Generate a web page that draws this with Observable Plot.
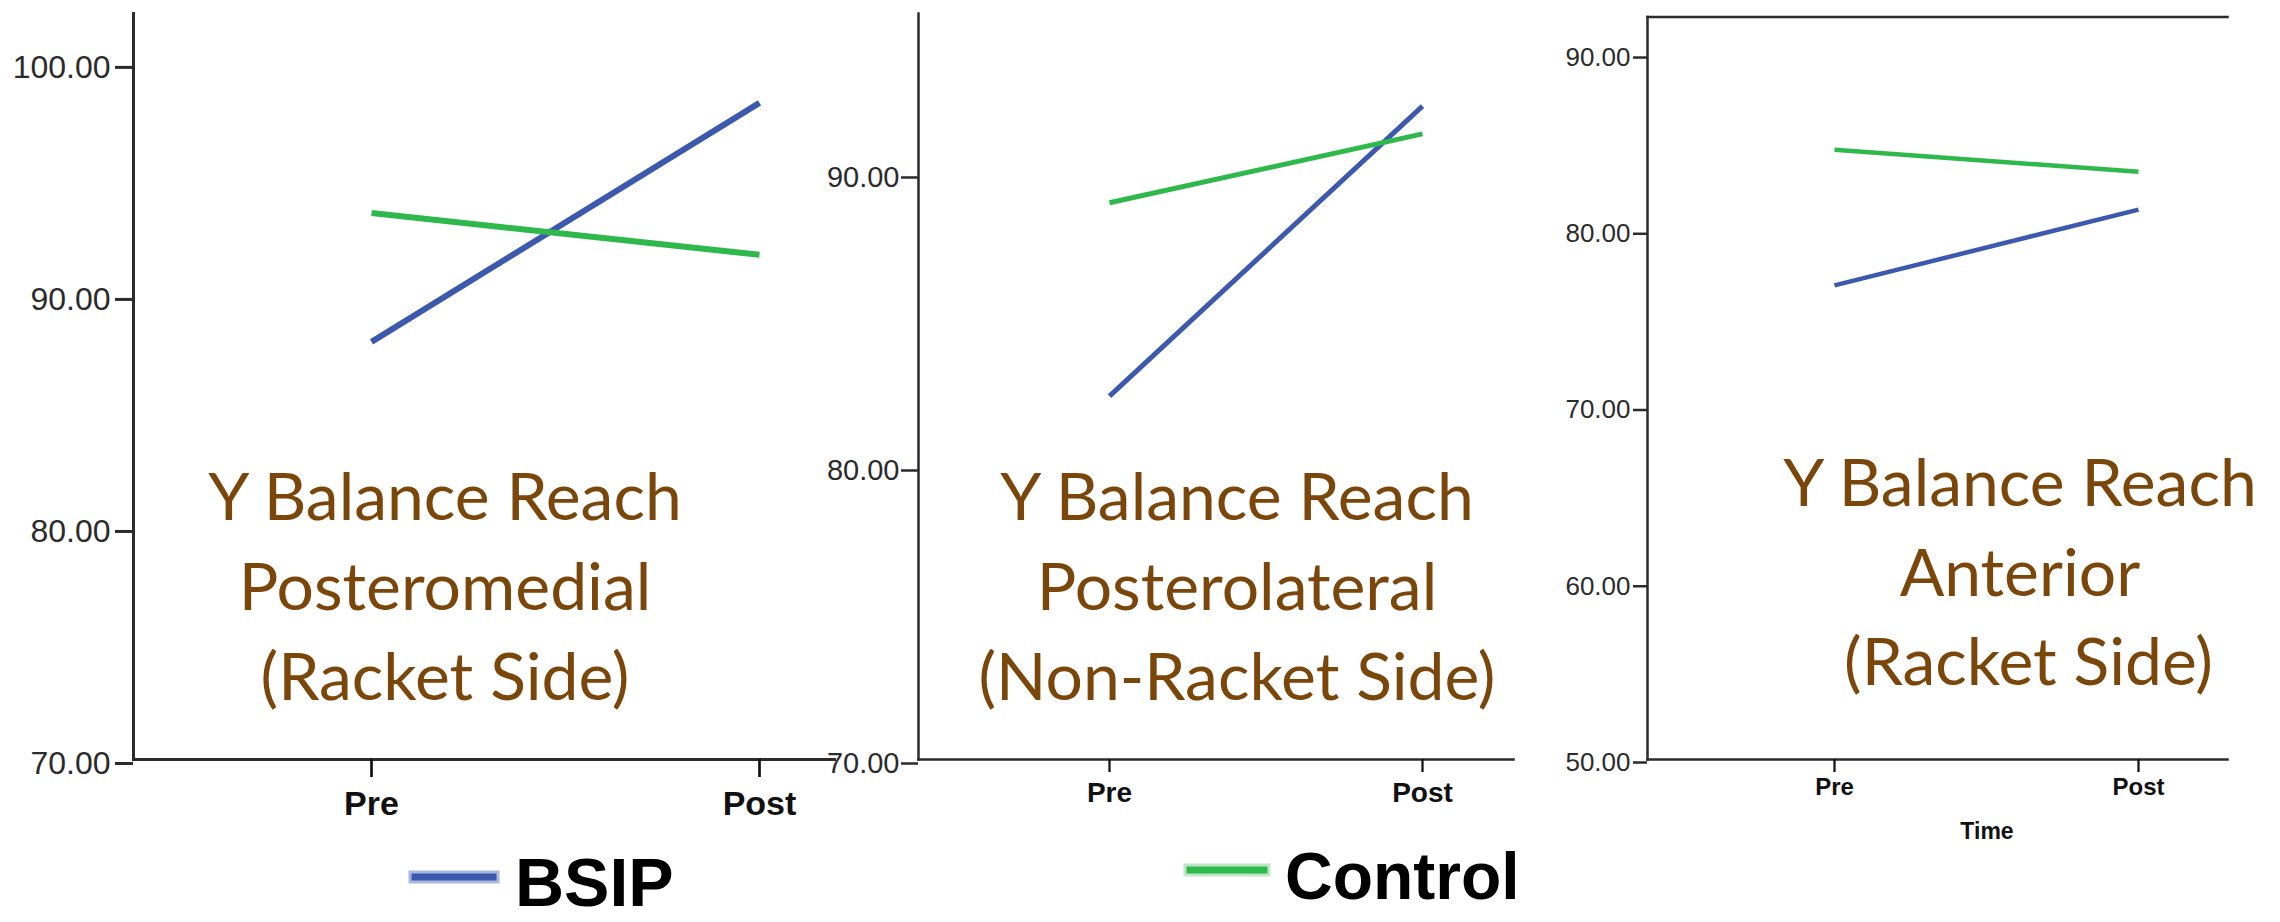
<!DOCTYPE html>
<html>
<head>
<meta charset="utf-8">
<script src="https://cdn.jsdelivr.net/npm/d3@7"></script>
<script src="https://cdn.jsdelivr.net/npm/@observablehq/plot@0.6"></script>
<style>
  html, body { margin: 0; padding: 0; background: #fff; }
  #wrap { position: relative; width: 2280px; height: 922px; overflow: hidden; background: #fff; }
  #wrap > svg.panel { position: absolute; top: 0; max-width: none; }
  #overlay { position: absolute; left: 0; top: 0; pointer-events: none; }
</style>
</head>
<body>
<div id="wrap"></div>
<script>
// ---------- data ----------
const times = ["Pre", "Post"];
const series = ["BSIP", "Control"];
const seriesColors = ["#3d59ad", "#2fb84b"];

const posteromedialBSIP = [88.0, 98.3];
const posteromedialControl = [93.55, 91.75];
const posterolateralBSIP = [82.4, 92.3];
const posterolateralControl = [89.0, 91.35];
const anteriorBSIP = [76.9, 81.2];
const anteriorControl = [84.6, 83.35];

const ticksPosteromedial = [70, 80, 90, 100];
const ticksPosterolateral = [70, 80, 90];
const ticksAnterior = [50, 60, 70, 80, 90];

const domainPosteromedial = [70, 102.15];
const domainPosterolateral = [70, 95.46];
const domainAnterior = [50, 92.13];

const titlePosteromedial = ["Y Balance Reach", "Posteromedial", "(Racket Side)"];
const titlePosterolateral = ["Y Balance Reach", "Posterolateral", "(Non-Racket Side)"];
const titleAnterior = ["Y Balance Reach", "Anterior", " (Racket Side)"];
const xAxisTitle = "Time";

// ---------- helpers ----------
function rows(bsip, control) {
  const out = [];
  times.forEach((t, i) => out.push({time: t, value: bsip[i], series: series[0]}));
  times.forEach((t, i) => out.push({time: t, value: control[i], series: series[1]}));
  return out;
}

const fmt = d3.format(".2f");
const H = 922, MB = 163;

function panel(cfg) {
  const marks = [
    Plot.frame({anchor: "left", stroke: "#2b2b2b", strokeWidth: cfg.axisW}),
    Plot.frame({anchor: "bottom", stroke: "#2b2b2b", strokeWidth: cfg.axisW}),
    Plot.axisY(cfg.ticks, {
      tickSize: cfg.yTickSize, tickPadding: cfg.yPad, tickFormat: fmt,
      fontSize: cfg.yFont, fontFamily: cfg.yFamily, color: "#2b2b2b",
      strokeWidth: cfg.axisW, dy: cfg.yDy, label: null
    }),
    Plot.axisX({
      tickSize: cfg.xTickSize, tickPadding: cfg.xPad, fontSize: cfg.xFont,
      fontWeight: "bold", fontFamily: "Liberation Sans, Arial, sans-serif",
      color: "#111", strokeWidth: cfg.axisW * 0.9, label: null
    }),
    Plot.line(cfg.data, {
      x: "time", y: "value", z: "series", stroke: "series",
      strokeWidth: cfg.lw, strokeLinecap: "butt"
    })
  ];
  if (cfg.topBorder) marks.push(Plot.frame({anchor: "top", stroke: "#2b2b2b", strokeWidth: cfg.axisW}));
  const svg = Plot.plot({
    width: cfg.width, height: H,
    marginLeft: cfg.marginLeft, marginRight: cfg.marginRight,
    marginTop: cfg.marginTop, marginBottom: MB,
    style: {background: "transparent", overflow: "visible", fontFamily: "Liberation Sans, Arial, sans-serif"},
    x: {type: "point", domain: times, range: cfg.xRange, padding: 0},
    y: {domain: cfg.domain},
    color: {domain: series, range: seriesColors},
    marks
  });
  svg.classList.add("panel");
  svg.style.left = cfg.left + "px";
  svg.style.width = cfg.width + "px";
  svg.style.height = H + "px";
  return svg;
}

const wrap = document.getElementById("wrap");

wrap.appendChild(panel({
  left: 0, width: 836, marginLeft: 133, marginRight: 2, marginTop: 13,
  domain: domainPosteromedial, ticks: ticksPosteromedial, xRange: [371, 759],
  data: rows(posteromedialBSIP, posteromedialControl), lw: 6, axisW: 3,
  yTickSize: 18, yPad: 5, yFont: 32, yFamily: "Liberation Sans, Arial, sans-serif", yDy: 4,
  xTickSize: 18, xPad: 13, xFont: 34
}));

wrap.appendChild(panel({
  left: 820, width: 700, marginLeft: 98, marginRight: 7, marginTop: 13,
  domain: domainPosterolateral, ticks: ticksPosterolateral, xRange: [289, 602],
  data: rows(posterolateralBSIP, posterolateralControl), lw: 5, axisW: 2.5,
  yTickSize: 17, yPad: 2, yFont: 29, yFamily: "Liberation Sans Narrow, Liberation Sans, Arial, sans-serif", yDy: 4,
  xTickSize: 13, xPad: 10, xFont: 28
}));

wrap.appendChild(panel({
  left: 1560, width: 720, marginLeft: 87, marginRight: 53, marginTop: 16.5,
  domain: domainAnterior, ticks: ticksAnterior, xRange: [274, 578],
  data: rows(anteriorBSIP, anteriorControl), lw: 4.5, axisW: 2.5, topBorder: true,
  yTickSize: 14, yPad: 3, yFont: 26, yFamily: "Liberation Sans Narrow, Liberation Sans, Arial, sans-serif", yDy: 3,
  xTickSize: 13, xPad: 5, xFont: 24
}));

// ---------- overlay: titles, axis title, legend ----------
const ov = d3.select(wrap).append("svg").attr("id", "overlay")
  .attr("width", 2280).attr("height", 922);

const titleFont = "Lato, 'Open Sans', sans-serif";
const titleColor = "#7b4609";
[
  {lines: titlePosteromedial, cx: 445, base: 520, step: 90},
  {lines: titlePosterolateral, cx: 1237, base: 520, step: 90},
  {lines: titleAnterior, cx: 2020, base: 506, step: 89.5}
].forEach(t => {
  ov.append("g").selectAll("text").data(t.lines).join("text")
    .attr("x", t.cx).attr("y", (d, i) => t.base + i * t.step)
    .attr("text-anchor", "middle")
    .attr("font-family", titleFont).attr("font-size", 66)
    .attr("fill", titleColor).attr("xml:space", "preserve")
    .style("white-space", "pre")
    .text(d => d);
});

ov.append("text").attr("x", 1987).attr("y", 839).attr("text-anchor", "middle")
  .attr("font-family", "Liberation Sans, Arial, sans-serif").attr("font-weight", "bold")
  .attr("font-size", 23).attr("fill", "#111").text(xAxisTitle);

const legendItems = [
  {name: series[0], color: seriesColors[0], halo: "#aab7e0", sx: 410, sy: 872, sw: 88, sh: 10, tx: 515, ty: 906, fs: 68},
  {name: series[1], color: seriesColors[1], halo: "#bfe8c8", sx: 1185, sy: 865, sw: 84, sh: 10, tx: 1285, ty: 899, fs: 66}
];
legendItems.forEach(l => {
  ov.append("rect").attr("x", l.sx).attr("y", l.sy).attr("width", l.sw).attr("height", l.sh)
    .attr("fill", l.color).attr("stroke", l.halo).attr("stroke-width", 3);
  ov.append("text").attr("x", l.tx).attr("y", l.ty)
    .attr("font-family", "Liberation Sans, Arial, sans-serif").attr("font-weight", "bold")
    .attr("font-size", l.fs).attr("fill", "#000").text(l.name);
});
</script>
</body>
</html>
